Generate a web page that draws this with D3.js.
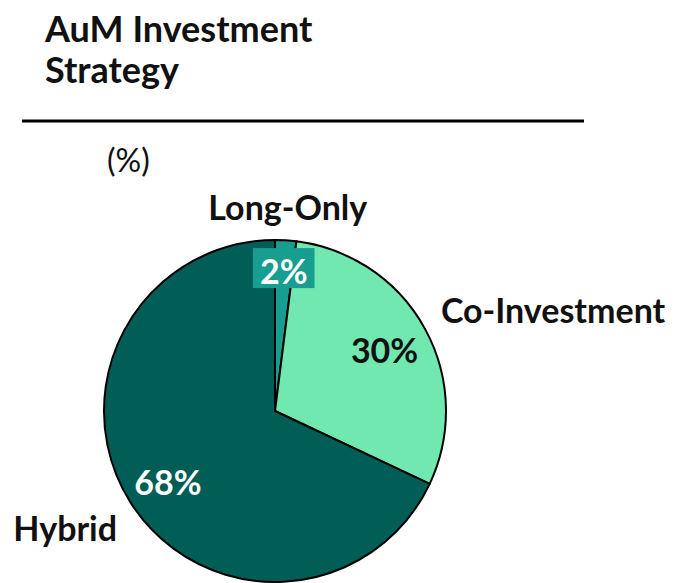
<!DOCTYPE html>
<html>
<head>
<meta charset="utf-8">
<script src="https://cdn.jsdelivr.net/npm/d3@7"></script>
<style>
  body { margin: 0; background: #fff; }
  text { font-family: Lato, "Open Sans", sans-serif; }
</style>
</head>
<body>
<svg id="chart" width="677" height="583"></svg>
<script>
// pie data
var categories = ["Long-Only", "Co-Investment", "Hybrid"];
var values = [2, 30, 68];
var colors = ["#179e90", "#70e8b0", "#005e56"];

var width = 677, height = 583;
var svg = d3.select("#chart");

// title block
svg.append("text")
	.attr("x", 45).attr("y", 42)
	.attr("font-size", 36).attr("font-weight", 700).attr("fill", "#111")
	.text("AuM Investment");
svg.append("text")
	.attr("x", 45).attr("y", 83)
	.attr("font-size", 36).attr("font-weight", 700).attr("fill", "#111")
	.text("Strategy");
svg.append("line")
	.attr("x1", 22).attr("x2", 584)
	.attr("y1", 121).attr("y2", 121)
	.attr("stroke", "#000").attr("stroke-width", 3);
svg.append("text")
	.attr("x", 107).attr("y", 172)
	.attr("font-size", 32).attr("fill", "#111")
	.text("(%)");

// the pie
var cx = 275, cy = 411, r = 171;
var g = svg.append("g").attr("transform", "translate(" + cx + "," + cy + ")");

var pie = d3.pie().sort(null).value(function(d){ return d; });
var arcs = pie(values);
var arc = d3.arc().innerRadius(0).outerRadius(r);

g.selectAll("path.slice")
	.data(arcs)
	.enter().append("path")
	.attr("class", "slice")
	.attr("d", arc)
	.attr("fill", function(d, i){ return colors[i]; })
	.attr("stroke", "#000")
	.attr("stroke-width", 2)
	.attr("stroke-linejoin", "round");

// label placement (radius factors, angle nudges, anchors per slice)
var valueRad = [0.814, 0.731, 0.756];
var valueAngle = [0, 0, -0.03];
var valueCol = ["#fff", "#111", "#fff"];
var nameRad = [1.19, 1.133, 1.153];
var nameAngle = [0, -0.04, -0.076];
var nameAnchor = ["middle", "start", "end"];

function pos(d, k, da){
	var a = (d.startAngle + d.endAngle) / 2 + (da || 0);
	return [Math.sin(a) * r * k, -Math.cos(a) * r * k];
}

arcs.forEach(function(d, i){
	var p = pos(d, valueRad[i], valueAngle[i]);
	var t = g.append("text")
		.attr("x", p[0]).attr("y", p[1])
		.attr("text-anchor", "middle")
		.attr("dy", "0.35em")
		.attr("font-size", 34).attr("font-weight", 700)
		.attr("fill", valueCol[i])
		.text(values[i] + "%");
	if (i == 0) {
		// small slice gets a filled box behind its label
		var bb = t.node().getBBox();
		g.insert("rect", "text")
			.attr("x", bb.x - 7).attr("y", p[1] - 24)
			.attr("width", bb.width + 14).attr("height", 40)
			.attr("fill", colors[0]);
	}
	var q = pos(d, nameRad[i], nameAngle[i]);
	g.append("text")
		.attr("x", q[0]).attr("y", q[1])
		.attr("text-anchor", nameAnchor[i])
		.attr("dy", "0.35em")
		.attr("font-size", 34).attr("font-weight", 700)
		.attr("fill", "#111")
		.text(categories[i]);
});
</script>
</body>
</html>
